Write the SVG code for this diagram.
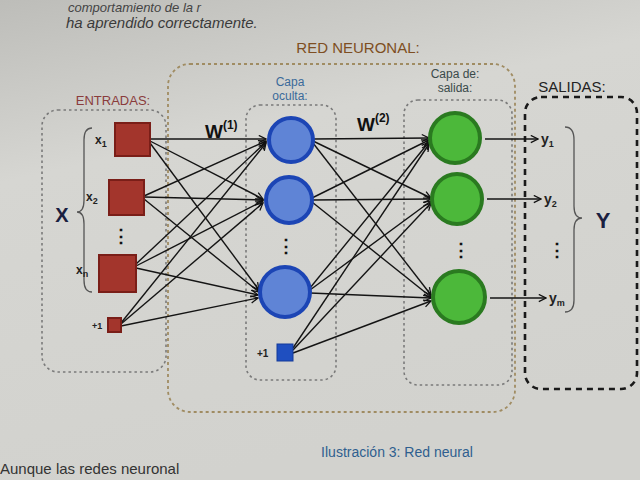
<svg xmlns="http://www.w3.org/2000/svg" width="640" height="480" viewBox="0 0 640 480">
<defs>
<linearGradient id="bg" x1="0" y1="0" x2="0.3" y2="1">
<stop offset="0" stop-color="#bdbdb9"/>
<stop offset="0.35" stop-color="#d6d6d2"/>
<stop offset="1" stop-color="#d2d2ce"/>
</linearGradient>
<marker id="ar" viewBox="0 0 10 10" refX="9" refY="5" markerWidth="9" markerHeight="9" markerUnits="userSpaceOnUse" orient="auto">
<path d="M1,1 L9,5 L1,9" fill="none" stroke="#111" stroke-width="1.4"/>
</marker>
<style>
.box{fill:none;stroke:#7a7a7a;stroke-width:1.6;stroke-dasharray:2.5 3}
.red{fill:none;stroke:#a08c62;stroke-width:1.8;stroke-dasharray:3 3}
.sal{fill:none;stroke:#1a1a1a;stroke-width:2.6;stroke-dasharray:6 5}
.in{fill:#a3352c;stroke:#7a1e18;stroke-width:2}
.hid{fill:#5f84d6;stroke:#1c45b5;stroke-width:4}
.out{fill:#4cb83a;stroke:#2a7a20;stroke-width:4}
.cn line{stroke:#141414;stroke-width:1.4;marker-end:url(#ar)}
.t{font-family:"Liberation Sans",Arial,sans-serif}
.sub{font-family:"Liberation Sans",Arial,sans-serif;font-weight:bold;fill:#222}
.dots{font-family:"Liberation Sans",Arial,sans-serif;font-weight:bold;font-size:18px;fill:#111}
.brace{fill:none;stroke:#555;stroke-width:1.3}
</style>
</defs>
<rect width="640" height="480" fill="url(#bg)"/>
<text x="68" y="12" class="t" font-size="13" fill="#444" font-style="italic">comportamiento de la r</text>
<text x="66" y="28" class="t" font-size="15" fill="#3a3a3a" font-style="italic">ha aprendido correctamente.</text>
<text x="0" y="474" class="t" font-size="15" fill="#333">Aunque las redes neuronal</text>

<g id="red-neuronal">
<rect x="168" y="64" width="347" height="348" rx="22" class="red"/>
<text x="358" y="53" class="t" font-size="15" fill="#7e4e22" text-anchor="middle">RED  NEURONAL:</text>
</g>

<g id="entradas">
<rect x="42" y="110" width="124" height="262" rx="16" class="box"/>
<text x="113" y="105" class="t" font-size="13" fill="#8a3c3c" text-anchor="middle">ENTRADAS:</text>
<path class="brace" d="M92,128 Q84,128 84,140 L84,200 Q84,212 77,212 Q84,212 84,224 L84,280 Q84,292 92,292"/>
<text x="62" y="222" class="t" font-size="20" font-weight="bold" fill="#1a2040" text-anchor="middle">X</text>
</g>

<g id="capa-oculta">
<rect x="246" y="105" width="90" height="275" rx="14" class="box"/>
<text x="290" y="86" class="t" font-size="12" fill="#3a6a9a" text-anchor="middle">Capa</text>
<text x="290" y="100" class="t" font-size="12" fill="#3a6a9a" text-anchor="middle">oculta:</text>
</g>

<g id="capa-salida">
<rect x="404" y="100" width="108" height="285" rx="14" class="box"/>
<text x="455" y="78" class="t" font-size="12" fill="#3a4a4a" text-anchor="middle">Capa  de:</text>
<text x="455" y="92" class="t" font-size="12" fill="#3a4a4a" text-anchor="middle">salida:</text>
</g>

<g id="salidas">
<rect x="525" y="97" width="112" height="292" rx="16" class="sal"/>
<text x="572" y="92" class="t" font-size="15" fill="#222" text-anchor="middle">SALIDAS:</text>
<path class="brace" d="M565,127 Q574,127 574,140 L574,206 Q574,218 582,218 Q574,218 574,230 L574,300 Q574,312 565,312"/>
<text x="603" y="228" class="t" font-size="22" font-weight="bold" fill="#1a2040" text-anchor="middle">Y</text>
</g>

<g id="connectors" class="cn">
<line x1="150" y1="139" x2="266" y2="139"/>
<line x1="150" y1="141" x2="263" y2="199"/>
<line x1="150" y1="143" x2="259" y2="290"/>
<line x1="144" y1="196" x2="266" y2="141"/>
<line x1="144" y1="197" x2="263" y2="200"/>
<line x1="144" y1="199" x2="259" y2="292"/>
<line x1="136" y1="264" x2="266" y2="142"/>
<line x1="136" y1="266" x2="263" y2="201"/>
<line x1="136" y1="268" x2="258" y2="295"/>
<line x1="121" y1="323" x2="266" y2="143"/>
<line x1="121" y1="324" x2="263" y2="203"/>
<line x1="121" y1="326" x2="258" y2="298"/>

<line x1="313" y1="139" x2="429" y2="138"/>
<line x1="313" y1="141" x2="431" y2="198"/>
<line x1="313" y1="143" x2="431" y2="295"/>
<line x1="312" y1="198" x2="429" y2="140"/>
<line x1="312" y1="200" x2="431" y2="199"/>
<line x1="312" y1="202" x2="431" y2="297"/>
<line x1="310" y1="288" x2="429" y2="142"/>
<line x1="310" y1="290" x2="431" y2="201"/>
<line x1="310" y1="293" x2="431" y2="298"/>
<line x1="293" y1="348" x2="429" y2="144"/>
<line x1="293" y1="350" x2="431" y2="203"/>
<line x1="293" y1="353" x2="431" y2="301"/>

<line x1="485" y1="139" x2="538" y2="139"/>
<line x1="487" y1="199" x2="541" y2="199"/>
<line x1="490" y1="298" x2="546" y2="298"/>
</g>

<g id="x1"><rect x="115" y="123" width="35" height="33" class="in"/><text x="95" y="144" class="sub" font-size="12">x<tspan font-size="9" dy="3">1</tspan></text></g>
<g id="x2"><rect x="109" y="180" width="35" height="35" class="in"/><text x="86" y="201" class="sub" font-size="12">x<tspan font-size="9" dy="3">2</tspan></text></g>
<text x="121" y="242" class="dots" text-anchor="middle">⋮</text>
<g id="xn"><rect x="99" y="255" width="37" height="37" class="in"/><text x="76" y="274" class="sub" font-size="12">x<tspan font-size="9" dy="3">n</tspan></text></g>
<g id="bias-in"><rect x="108" y="318" width="13" height="14" class="in" stroke-width="1.5"/><text x="92" y="329" class="sub" font-size="9">+1</text></g>

<g id="h1"><circle cx="291" cy="140" r="22" class="hid"/></g>
<g id="h2"><circle cx="289" cy="200" r="23" class="hid"/></g>
<text x="286" y="252" class="dots" text-anchor="middle">⋮</text>
<g id="h3"><circle cx="285" cy="292" r="25" class="hid"/></g>
<g id="bias-hid"><rect x="277" y="344" width="16" height="17" fill="#1f4fc0" stroke="#153a9a" stroke-width="1"/><text x="257" y="357" class="sub" font-size="10">+1</text></g>

<g id="W1"><text x="205" y="138" class="t" font-size="19" font-weight="bold" fill="#111">W<tspan font-size="12" dy="-9">(1)</tspan></text></g>
<g id="W2"><text x="357" y="131" class="t" font-size="19" font-weight="bold" fill="#111">W<tspan font-size="12" dy="-9">(2)</tspan></text></g>

<g id="o1"><circle cx="455" cy="138" r="25" class="out"/></g>
<g id="o2"><circle cx="457" cy="199" r="25" class="out"/></g>
<text x="461" y="256" class="dots" text-anchor="middle">⋮</text>
<g id="o3"><circle cx="459" cy="297" r="26" class="out"/></g>

<g id="y1"><text x="541" y="144" class="sub" font-size="14" fill="#1a2040">y<tspan font-size="9" dy="3">1</tspan></text></g>
<g id="y2"><text x="544" y="204" class="sub" font-size="14" fill="#1a2040">y<tspan font-size="9" dy="3">2</tspan></text></g>
<text x="557" y="256" class="dots" text-anchor="middle">⋮</text>
<g id="ym"><text x="549" y="303" class="sub" font-size="14" fill="#1a2040">y<tspan font-size="9" dy="3">m</tspan></text></g>

<text x="397" y="457" class="t" font-size="14" fill="#2f5f8f" text-anchor="middle">Ilustración 3: Red neural</text>
</svg>
